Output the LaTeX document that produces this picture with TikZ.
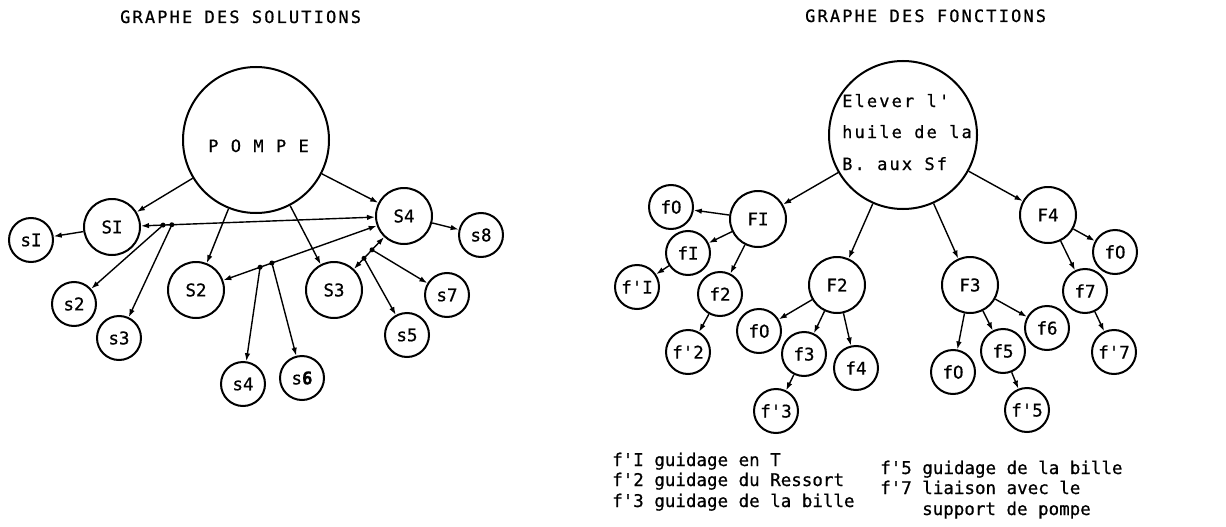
\documentclass[tikz,border=0pt]{standalone}
\usepackage{fontspec}
\setmonofont[FakeBold=0.7]{DejaVu Sans Mono}
\newfontfamily\spacedfont[LetterSpace=12.5,FakeBold=0.7]{DejaVu Sans Mono}
\usetikzlibrary{arrows.meta,calc}
\begin{document}
\begin{tikzpicture}[x=1pt,y=-1pt,
  every node/.style={font=\ttfamily\fontsize{17.5}{20}\selectfont},
  bigc/.style={draw, circle, line width=2pt, minimum size=56pt, inner sep=0pt},
  smallc/.style={draw, circle, line width=2pt, minimum size=44pt, inner sep=0pt},
  arr/.style={-{Latex[length=8pt,width=5.5pt]}, line width=1.4pt},
  darr/.style={{Latex[length=8pt,width=5.5pt]}-{Latex[length=8pt,width=5.5pt]}, line width=1.4pt},
  txt/.style={anchor=base west, inner sep=0pt},
  spaced/.style={anchor=base west, inner sep=0pt, font=\spacedfont\fontsize{17}{20}\selectfont},
  jdot/.style={radius=2.5pt}
  ]
\useasboundingbox (0,0) rectangle (1226,527);

% titles
\node[spaced] (T1) at (120,23) {GRAPHE DES SOLUTIONS};
\node[spaced] (T2) at (805,22) {GRAPHE DES FONCTIONS};

% ---------- left graph ----------
\node[draw, circle, line width=2pt, minimum size=146pt, inner sep=0pt] (P) at (256,140) {};
\node[spaced] (Pt) at (208,152) {P O M P E};
\node[bigc] (SI) at (112,227) {SI};
\node[smallc] (sI) at (31,240) {sI};
\node[smallc] (s2) at (74,304) {s2};
\node[smallc] (s3) at (119,338) {s3};
\node[bigc] (S2) at (196,290) {S2};
\node[bigc] (S3) at (334,290) {S3};
\node[bigc] (S4) at (404,216) {S4};
\node[smallc] (s8) at (481,235) {s8};
\node[smallc] (s7) at (447,295) {s7};
\node[smallc] (s5) at (407,335) {s5};
\node[smallc] (s4) at (243,384) {s4};
\node[smallc] (s6) at (302,378) {s{\bfseries 6}};

\draw[arr] (P) -- (SI);
\draw[arr] (P) -- (S4);
\draw[arr] (P) -- (S2);
\draw[arr] (P) -- (S3);
\draw[arr] (SI) -- (sI);
\draw[arr] (S4) -- (s8);
\draw[darr] (SI) -- (S4);
\draw[darr] (S4) -- (S2);
\draw[darr] (S4) -- (S3);

\coordinate (j1) at ($(SI)!0.175!(S4)$);
\coordinate (j2) at ($(SI)!0.205!(S4)$);
\coordinate (j3) at ($(S4)!0.692!(S2)$);
\coordinate (j4) at ($(S4)!0.635!(S2)$);
\coordinate (j5) at ($(S4)!0.457!(S3)$);
\coordinate (j6) at ($(S4)!0.571!(S3)$);
\foreach \j in {j1,j2,j3,j4,j5,j6} \fill (\j) circle[jdot];

\draw[arr] (j1) -- (s2);
\draw[arr] (j2) -- (s3);
\draw[arr] (j3) -- (s4);
\draw[arr] (j4) -- (s6);
\draw[arr] (j5) -- (s7);
\draw[arr] (j6) -- (s5);

% ---------- right graph ----------
\node[draw, circle, line width=2pt, minimum size=148pt, inner sep=0pt] (B) at (903,135) {};
\node[spaced] (Bt1) at (842,107) {Elever l'};
\node[spaced] (Bt2) at (842,138) {huile de la};
\node[spaced] (Bt3) at (842,170) {B. aux Sf};

\node[bigc] (FI) at (758,219) {FI};
\node[smallc] (fOa) at (671,207) {fO};
\node[smallc] (fI) at (688,253) {fI};
\node[smallc] (fpI) at (637,287) {f'I};
\node[smallc] (f2) at (720,294) {f2};
\node[smallc] (fp2) at (688,352) {f'2};
\node[bigc] (F2) at (837,285) {F2};
\node[smallc] (fOb) at (759,331) {fO};
\node[smallc] (f3) at (804,354) {f3};
\node[smallc] (f4) at (856,368) {f4};
\node[smallc] (fp3) at (776,411) {f'3};
\node[bigc] (F3) at (970,285) {F3};
\node[smallc] (fOc) at (953,372) {fO};
\node[smallc] (f5) at (1003,351) {f5};
\node[smallc] (fp5) at (1027,410) {f'5};
\node[smallc] (f6) at (1047,328) {f6};
\node[bigc] (F4) at (1048,215) {F4};
\node[smallc] (fOd) at (1115,252) {fO};
\node[smallc] (f7) at (1085,291) {f7};
\node[smallc] (fp7) at (1114,352) {f'7};

\draw[arr] (B) -- (FI);
\draw[arr] (B) -- (F2);
\draw[arr] (B) -- (F3);
\draw[arr] (B) -- (F4);
\draw[arr] (FI) -- (fOa);
\draw[arr] (FI) -- (fI);
\draw[arr] (FI) -- (f2);
\draw[arr] (fI) -- (fpI);
\draw[arr] (f2) -- (fp2);
\draw[arr] (F2) -- (fOb);
\draw[arr] (F2) -- (f3);
\draw[arr] (F2) -- (f4);
\draw[arr] (f3) -- (fp3);
\draw[arr] (F3) -- (fOc);
\draw[arr] (F3) -- (f5);
\draw[arr] (F3) -- (f6);
\draw[arr] (f5) -- (fp5);
\draw[arr] (F4) -- (fOd);
\draw[arr] (F4) -- (f7);
\draw[arr] (f7) -- (fp7);

% legend
\node[txt] (L1) at (612,466) {f'I guidage en T};
\node[txt] (L2) at (612,486) {f'2 guidage du Ressort};
\node[txt] (L3) at (612,507) {f'3 guidage de la bille};
\node[txt] (R1) at (880,474) {f'5 guidage de la bille};
\node[txt] (R2) at (880,494) {f'7 liaison avec le};
\node[txt] (R3) at (922,515) {support de pompe};
\end{tikzpicture}
\end{document}
